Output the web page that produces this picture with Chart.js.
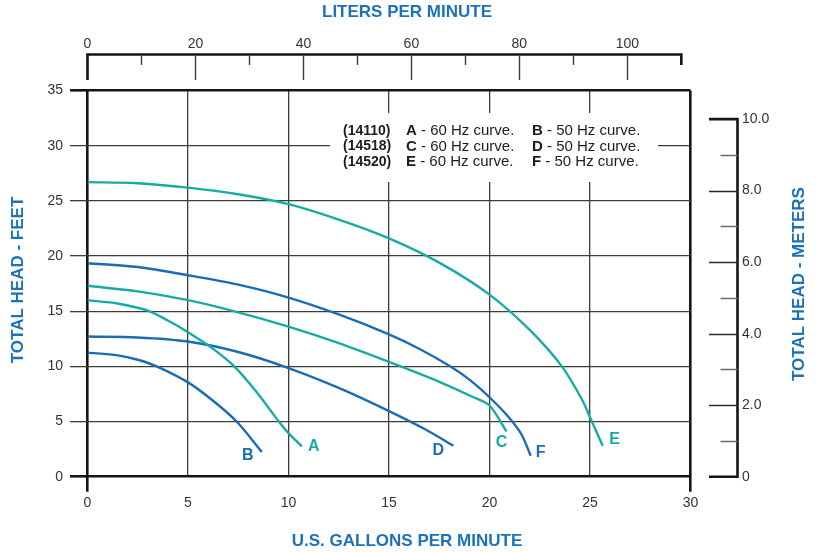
<!DOCTYPE html>
<html>
<head>
<meta charset="utf-8">
<script src="https://cdn.jsdelivr.net/npm/chart.js@4.4.1/dist/chart.umd.min.js"></script>
<style>
  html, body { margin: 0; padding: 0; background: #ffffff; }
  #pumpChart { display: block; }
</style>
</head>
<body>
<canvas id="pumpChart" width="818" height="552"></canvas>
<script>
// Axis ticks
const gpmTicks = [0, 5, 10, 15, 20, 25, 30];
const feetTicks = [0, 5, 10, 15, 20, 25, 30, 35];
const literMajor = [0, 20, 40, 60, 80, 100];
const literMinor = [10, 30, 50, 70, 90];
const literEnd = 110;
const meterMajor = [0, 2, 4, 6, 8, 10];
const meterMinor = [1, 3, 5, 7, 9];
const meterLabels = ['0', '2.0', '4.0', '6.0', '8.0', '10.0'];

// Secondary axis ranges as drawn in the picture (span of the plot area)
const litersAtPlotRight = 111.7;
const metersAtPlotTop = 10.8;

// Curves: [gpm, feet]
const curveA = [[0, 16.0], [1.5, 15.7], [3, 15.05], [4, 14.15], [5, 13.1], [6.2, 11.65], [7.3, 10.0], [8.4, 7.7], [9.5, 5.05], [10, 3.95], [10.66, 2.75]];
const curveB = [[0, 11.24], [1.5, 11.0], [2.5, 10.6], [3.44, 10.0], [5, 8.55], [6.2, 6.95], [7.42, 5.0], [8.67, 2.25]];
const curveC = [[0, 17.3], [2.5, 16.8], [5, 16.0], [7.5, 14.9], [10, 13.6], [12.5, 12.1], [15, 10.4], [17.5, 8.6], [19.2, 7.2], [20, 6.45], [20.85, 4.1]];
const curveD = [[0, 12.7], [2.5, 12.62], [5, 12.25], [7.5, 11.3], [10, 9.85], [12.5, 8.05], [15, 5.95], [16.8, 4.3], [18.2, 2.8]];
const curveE = [[0, 26.7], [2.5, 26.6], [5, 26.2], [7.5, 25.6], [10, 24.7], [12.5, 23.3], [15, 21.6], [17.5, 19.4], [20, 16.5], [22, 13.3], [23.6, 10.0], [24.6, 7.0], [25, 5.4], [25.63, 2.8]];
const curveF = [[0, 19.35], [2.5, 19.0], [5, 18.26], [7.5, 17.4], [10, 16.23], [12.5, 14.7], [15, 12.9], [16.5, 11.6], [18, 10.05], [19, 8.8], [20, 7.2], [21, 5.3], [21.6, 3.8], [22.05, 1.9]];

const curveNames = ['A', 'B', 'C', 'D', 'E', 'F'];
const curveData = [curveA, curveB, curveC, curveD, curveE, curveF];

// Colors
const BLUE = '#1a6cb5';
const TEAL = '#18aaa5';
const TITLE_BLUE = '#1b72ba';
const curveColors = [TEAL, BLUE, TEAL, BLUE, TEAL, BLUE];

// pixel offset of each curve letter from the curve end
const letterOffsets = {
    A: [12, 0], B: [-14, 4], C: [-5, 11], D: [-15, 5], E: [12, -6], F: [10, -3]
};

const FONT = '"Liberation Sans", Arial, Helvetica, sans-serif';
const GRID = '#3c3c3c';
const EDGE = '#151515';

// Draws the liters axis, the meters axis, titles, legend note and curve letters
const extrasPlugin = {
    id: 'extras',
    afterDraw(chart) {
        const ctx = chart.ctx;
        const x2 = chart.scales.x2;
        const y2 = chart.scales.y2;

        ctx.save();

        // Legend note box (covers grid lines)
        ctx.fillStyle = '#ffffff';
        ctx.fillRect(330, 113, 328, 69);

        const rows = [['(14110)', 'A', 'B'], ['(14518)', 'C', 'D'], ['(14520)', 'E', 'F']];
        ctx.fillStyle = '#1c1c1c';
        ctx.textBaseline = 'middle';
        ctx.textAlign = 'left';
        rows.forEach((row, i) => {
            const y = 131 + i * 15.5;
            ctx.font = 'bold 14px ' + FONT;
            ctx.fillText(row[0], 343, y);
            ctx.font = 'bold 15px ' + FONT;
            ctx.fillText(row[1], 406, y);
            const wa = ctx.measureText(row[1]).width;
            ctx.fillText(row[2], 532, y);
            const wb = ctx.measureText(row[2]).width;
            ctx.font = '15px ' + FONT;
            ctx.fillText(' - 60 Hz curve.', 406 + wa, y);
            ctx.fillText(' - 50 Hz curve.', 532 + wb, y);
        });

        // Top axis: liters per minute
        const topY = 54.5;
        ctx.strokeStyle = EDGE;
        ctx.lineCap = 'butt';
        ctx.lineWidth = 2.6;
        ctx.beginPath();
        ctx.moveTo(x2.getPixelForValue(0) - 1.3, topY);
        ctx.lineTo(x2.getPixelForValue(literEnd) + 1.3, topY);
        ctx.moveTo(x2.getPixelForValue(0), topY);
        ctx.lineTo(x2.getPixelForValue(0), 80);
        ctx.moveTo(x2.getPixelForValue(literEnd), topY);
        ctx.lineTo(x2.getPixelForValue(literEnd), 65);
        ctx.stroke();

        ctx.strokeStyle = GRID;
        ctx.lineWidth = 1.4;
        ctx.beginPath();
        literMajor.slice(1).forEach(v => {
            const px = Math.round(x2.getPixelForValue(v)) + 0.5;
            ctx.moveTo(px, topY);
            ctx.lineTo(px, 80);
        });
        literMinor.forEach(v => {
            const px = Math.round(x2.getPixelForValue(v)) + 0.5;
            ctx.moveTo(px, topY);
            ctx.lineTo(px, 65);
        });
        ctx.stroke();

        ctx.fillStyle = '#333333';
        ctx.font = '14px ' + FONT;
        ctx.textAlign = 'center';
        ctx.textBaseline = 'middle';
        literMajor.forEach(v => {
            ctx.fillText(String(v), x2.getPixelForValue(v), 44);
        });

        // Right axis: meters
        const rightX = 737.5;
        ctx.strokeStyle = EDGE;
        ctx.lineWidth = 2.6;
        ctx.beginPath();
        ctx.moveTo(rightX, y2.getPixelForValue(10) - 1.3);
        ctx.lineTo(rightX, y2.getPixelForValue(0) + 1.3);
        ctx.moveTo(709, y2.getPixelForValue(10));
        ctx.lineTo(rightX, y2.getPixelForValue(10));
        ctx.moveTo(709, y2.getPixelForValue(0));
        ctx.lineTo(rightX, y2.getPixelForValue(0));
        ctx.stroke();

        ctx.lineWidth = 1.4;
        ctx.strokeStyle = '#2a2a2a';
        ctx.beginPath();
        meterMajor.slice(1, -1).forEach(v => {
            const py = Math.round(y2.getPixelForValue(v)) + 0.5;
            ctx.moveTo(709, py);
            ctx.lineTo(rightX, py);
        });
        ctx.stroke();
        ctx.strokeStyle = '#6a6a6a';
        ctx.beginPath();
        meterMinor.forEach(v => {
            const py = Math.round(y2.getPixelForValue(v)) + 0.5;
            ctx.moveTo(720.5, py);
            ctx.lineTo(rightX, py);
        });
        ctx.stroke();

        ctx.fillStyle = '#333333';
        ctx.font = '14px ' + FONT;
        ctx.textAlign = 'left';
        meterMajor.forEach((v, i) => {
            ctx.fillText(meterLabels[i], 742, y2.getPixelForValue(v));
        });

        // Axis titles
        ctx.fillStyle = TITLE_BLUE;
        ctx.font = 'bold 17px ' + FONT;
        ctx.textAlign = 'center';
        ctx.textBaseline = 'middle';
        ctx.fillText('LITERS PER MINUTE', 407, 12);
        ctx.fillText('U.S. GALLONS PER MINUTE', 407, 541);

        ctx.save();
        ctx.translate(18, 280);
        ctx.rotate(-Math.PI / 2);
        ctx.fillText('TOTAL HEAD - FEET', 0, 0);
        ctx.restore();

        ctx.save();
        ctx.translate(799, 284);
        ctx.rotate(-Math.PI / 2);
        ctx.fillText('TOTAL HEAD - METERS', 0, 0);
        ctx.restore();

        // Curve letters at the end of each curve
        ctx.font = 'bold 16px ' + FONT;
        chart.data.datasets.forEach((ds, i) => {
            const meta = chart.getDatasetMeta(i);
            const last = meta.data[meta.data.length - 1];
            const off = letterOffsets[curveNames[i]];
            ctx.fillStyle = curveColors[i];
            ctx.fillText(curveNames[i], last.x + off[0], last.y + off[1]);
        });

        ctx.restore();
    }
};

const isEdge = (v, lo, hi) => v === lo || v === hi;

const chart = new Chart(document.getElementById('pumpChart').getContext('2d'), {
    type: 'scatter',
    data: {
        datasets: curveData.map((pts, i) => ({
            label: curveNames[i],
            data: pts.map(p => ({ x: p[0], y: p[1] })),
            showLine: true,
            borderColor: curveColors[i],
            backgroundColor: curveColors[i],
            borderWidth: 2.4,
            pointRadius: 0,
            tension: 0.3,
            fill: false
        }))
    },
    options: {
        responsive: false,
        animation: false,
        devicePixelRatio: 1,
        layout: { padding: { top: 90.5, right: 127.5, left: 0, bottom: 0 } },
        plugins: {
            legend: { display: false },
            tooltip: { enabled: false }
        },
        scales: {
            x: {
                type: 'linear',
                position: 'bottom',
                min: 0,
                max: 30,
                afterBuildTicks: s => { s.ticks = gpmTicks.map(v => ({ value: v })); },
                afterFit: s => { s.height = 75.3; },
                border: { display: false },
                grid: {
                    color: ctx => isEdge(ctx.tick.value, 0, 30) ? EDGE : GRID,
                    lineWidth: ctx => isEdge(ctx.tick.value, 0, 30) ? 2.6 : 1.3,
                    tickLength: 15,
                    tickColor: ctx => isEdge(ctx.tick.value, 0, 30) ? EDGE : 'rgba(0,0,0,0)',
                    tickWidth: 2.6
                },
                ticks: {
                    color: '#333333',
                    font: { family: FONT, size: 14 },
                    padding: 3,
                    maxRotation: 0
                }
            },
            y: {
                type: 'linear',
                position: 'left',
                min: 0,
                max: 35,
                afterBuildTicks: s => { s.ticks = feetTicks.map(v => ({ value: v })); },
                afterFit: s => { s.width = 87.5; },
                border: { display: false },
                grid: {
                    color: ctx => isEdge(ctx.tick.value, 0, 35) ? EDGE : GRID,
                    lineWidth: ctx => isEdge(ctx.tick.value, 0, 35) ? 2.6 : 1.3,
                    tickLength: 17.5
                },
                ticks: {
                    color: '#333333',
                    font: { family: FONT, size: 14 },
                    padding: 7
                }
            },
            x2: {
                type: 'linear',
                position: 'top',
                display: false,
                min: 0,
                max: litersAtPlotRight
            },
            y2: {
                type: 'linear',
                position: 'right',
                display: false,
                min: 0,
                max: metersAtPlotTop
            }
        }
    },
    plugins: [extrasPlugin]
});
</script>
</body>
</html>
